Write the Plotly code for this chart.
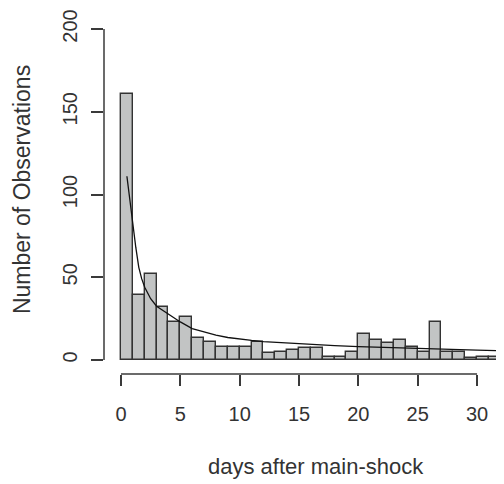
import plotly.graph_objects as go

# Histogram data (1-day bins)
bin_start = list(range(0, 32))
counts = [161, 39, 52, 32, 23, 26, 13, 11, 8, 8, 8, 11, 4, 5, 6, 7,
          7, 2, 2, 5, 16, 12, 10, 12, 8, 5, 23, 5, 5, 1, 2, 2]

# Fitted decay curve
curve_days = [0.5, 0.75, 1.0, 1.25, 1.5, 1.75, 2.0, 2.5, 3.0, 4.0, 5.0, 6.0, 7.0, 8.0,
              9.0, 10.0, 11.0, 12.0, 14.0, 16.0, 18.0, 20.0, 22.0, 24.0, 26.0,
              28.0, 30.0, 32.3]
curve_vals = [111, 96, 82, 68, 56, 49, 44, 37, 32.5, 27.5, 23, 19, 16.8, 15, 13.6,
              12.6, 11.8, 11.1, 10.2, 9.3, 8.7, 8.1, 7.6, 7.1, 6.6, 6.3, 6.0, 5.6]

xticks = [0, 5, 10, 15, 20, 25, 30]
yticks = [0, 50, 100, 150, 200]

x_title = "days after main-shock"
y_title = "Number of Observations"

axis_col = "#3a3a3a"
text_col = "#333333"
font_fam = "Liberation Sans, Arial, sans-serif"

fig = go.Figure()
fig.add_trace(go.Bar(
    x=[b + 0.5 for b in bin_start], y=counts, width=1.0,
    marker=dict(color="#c2c4c4", line=dict(color="#333333", width=1.4)),
    showlegend=False,
))
fig.add_trace(go.Scatter(
    x=curve_days, y=curve_vals, mode="lines",
    line=dict(color="#111111", width=1.3), showlegend=False,
))

# page body has an 8px margin, so the figure is 8px smaller each way
W, H = 496, 476
L, R, T, B = 96, 0, 21, 110

fig.update_layout(
    width=W, height=H,
    margin=dict(l=L, r=R, t=T, b=B, pad=0),
    paper_bgcolor="white", plot_bgcolor="white",
    bargap=0,
    font=dict(family=font_fam, size=20, color=text_col),
    xaxis=dict(range=[-1.43, 32.27], tickvals=xticks, ticks="outside", ticklen=11,
               tickwidth=1.5, tickcolor=axis_col, showgrid=False, zeroline=False,
               showline=False, ticklabelstandoff=11,
               tickfont=dict(size=20, color=text_col)),
    yaxis=dict(range=[-8.46, 200], tickvals=yticks, ticks="outside", ticklen=12,
               tickwidth=1.5, tickcolor=axis_col, showgrid=False, zeroline=False,
               showline=False, tickangle=-90, ticklabelstandoff=6,
               tickfont=dict(size=20, color=text_col)),
    shapes=[
        dict(type="line", xref="x", yref="paper", x0=xticks[0], x1=xticks[-1], y0=0, y1=0,
             line=dict(color=axis_col, width=1.5)),
        dict(type="line", xref="paper", yref="y", x0=0, x1=0, y0=yticks[0], y1=yticks[-1],
             line=dict(color=axis_col, width=1.5)),
    ],
    annotations=[
        dict(text=x_title, xref="paper", yref="paper", x=0.529, y=0, yshift=-92,
             xanchor="center", yanchor="middle", showarrow=False,
             font=dict(size=22, color=text_col)),
        dict(text=y_title, xref="paper", yref="paper", x=0, xshift=-82, y=0.533,
             xanchor="center", yanchor="middle", textangle=-90, showarrow=False,
             font=dict(size=23, color=text_col)),
    ],
)

fig.write_html("out.html")
